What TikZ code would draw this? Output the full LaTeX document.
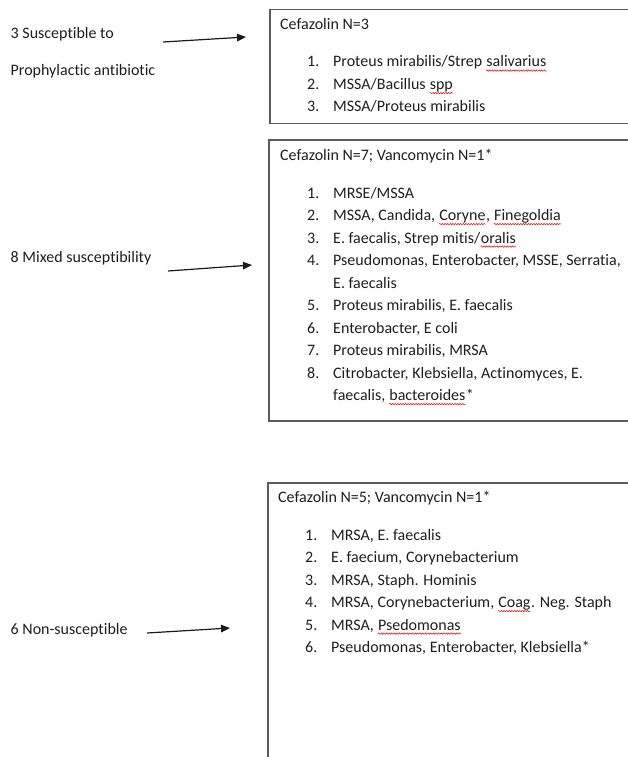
\documentclass[tikz,border=0pt]{standalone}
\usepackage{fontspec}
\setmainfont{Carlito}[Ligatures=NoCommon]
\usepackage{tikz}
\usetikzlibrary{arrows.meta, decorations.pathmorphing}
\definecolor{txtgray}{HTML}{1E1E1E}
\definecolor{framegray}{HTML}{5A5A5A}
\definecolor{arrowgray}{HTML}{1A1A1A}
\definecolor{spellred}{HTML}{E02020}
\newcommand{\sq}[1]{\tikz[baseline=(w.base)]{\node[inner sep=0pt] (w) {#1};
    \draw[spellred, line width=0.6pt, decorate, decoration={snake, amplitude=0.7pt, segment length=2.6pt}]
      ([yshift=-3.6pt]w.base west) -- ([yshift=-3.6pt]w.base east);}}

\begin{document}
\begin{tikzpicture}[
    x=1pt, y=-1pt,
    every node/.style={font=\fontsize{16}{19}\selectfont, text=txtgray, inner sep=0pt},
    grp/.style={anchor=base west},
    num/.style={anchor=base west},
    entry/.style={anchor=base west},
    boxframe/.style={draw=framegray, line width=1.5pt, anchor=north west, minimum width=400pt},
    arrow/.style={-{Triangle[length=9pt, width=7.5pt]}, line width=1.2pt, draw=arrowgray}
]
    \useasboundingbox (0,0) rectangle (628,757);
    \clip (0,0) rectangle (628,757);

    % Susceptible group
    \node[grp] (susc_lbl) at (10.5,39) {3 Susceptible to};
    \node[grp] (susc_lbl2) at (10.5,76) {Prophylactic antibiotic};
    \node[boxframe, minimum height=114pt] (susc) at (269,9) {};
    \node[entry] (susc_head) at (280,30) {Cefazolin N=3};
    \foreach \i/\t in {1/{Proteus mirabilis/Strep \sq{salivarius}},
                       2/{MSSA/Bacillus \sq{spp}},
                       3/{MSSA/Proteus mirabilis}} {
        \node[num] (susc_n\i) at (307,44.5+22.5*\i) {\i.};
        \node[entry] (susc_\i) at (333,44.5+22.5*\i) {\t};
    }

    % Mixed group
    \node[grp] (mixed_lbl) at (10.5,262) {8 Mixed susceptibility};
    \node[boxframe, minimum height=281pt] (mixed) at (268,139) {};
    \node[entry] (mixed_head) at (280,160) {Cefazolin N=7; Vancomycin N=1*};
    \foreach \i/\l/\t in {1/0/{MRSE/MSSA},
                          2/1/{MSSA, Candida, \sq{Coryne}, \sq{Finegoldia}},
                          3/2/{E. faecalis, Strep mitis/\sq{oralis}},
                          4/3/{Pseudomonas, Enterobacter, MSSE, Serratia,},
                          5/5/{Proteus mirabilis, E. faecalis},
                          6/6/{Enterobacter, E coli},
                          7/7/{Proteus mirabilis, MRSA},
                          8/8/{Citrobacter, Klebsiella, Actinomyces, E.}} {
        \node[num] (mixed_n\i) at (307,198+22.5*\l) {\i.};
        \node[entry] (mixed_\i) at (333,198+22.5*\l) {\t};
    }
    \node[entry] (mixed_4b) at (333,265.5+22.5) {E. faecalis};
    \node[entry] (mixed_8b) at (333,378+22.5) {faecalis, \sq{bacteroides}*};

    % Non-susceptible group
    \node[grp] (nons_lbl) at (10.5,634) {6 Non-susceptible};
    \node[boxframe, minimum height=320pt] (nons) at (267,482) {};
    \node[entry] (nons_head) at (278,502) {Cefazolin N=5; Vancomycin N=1*};
    \foreach \i/\t in {1/{MRSA, E. faecalis},
                       2/{E. faecium, Corynebacterium},
                       3/{MRSA, Staph. Hominis},
                       4/{MRSA, Corynebacterium, \sq{Coag}. Neg. Staph},
                       5/{MRSA, \sq{Psedomonas}},
                       6/{Pseudomonas, Enterobacter, Klebsiella*}} {
        \node[num] (nons_n\i) at (305,517.5+22.5*\i) {\i.};
        \node[entry] (nons_\i) at (331,517.5+22.5*\i) {\t};
    }

    % Arrows
    \coordinate (susc_from) at (163,42);
    \coordinate (susc_to) at (246,37);
    \coordinate (mixed_from) at (168,271);
    \coordinate (mixed_to) at (252,265);
    \coordinate (nons_from) at (147,633);
    \coordinate (nons_to) at (230,628);
    \draw[arrow] (susc_from) -- (susc_to);
    \draw[arrow] (mixed_from) -- (mixed_to);
    \draw[arrow] (nons_from) -- (nons_to);

\end{tikzpicture}
\end{document}
